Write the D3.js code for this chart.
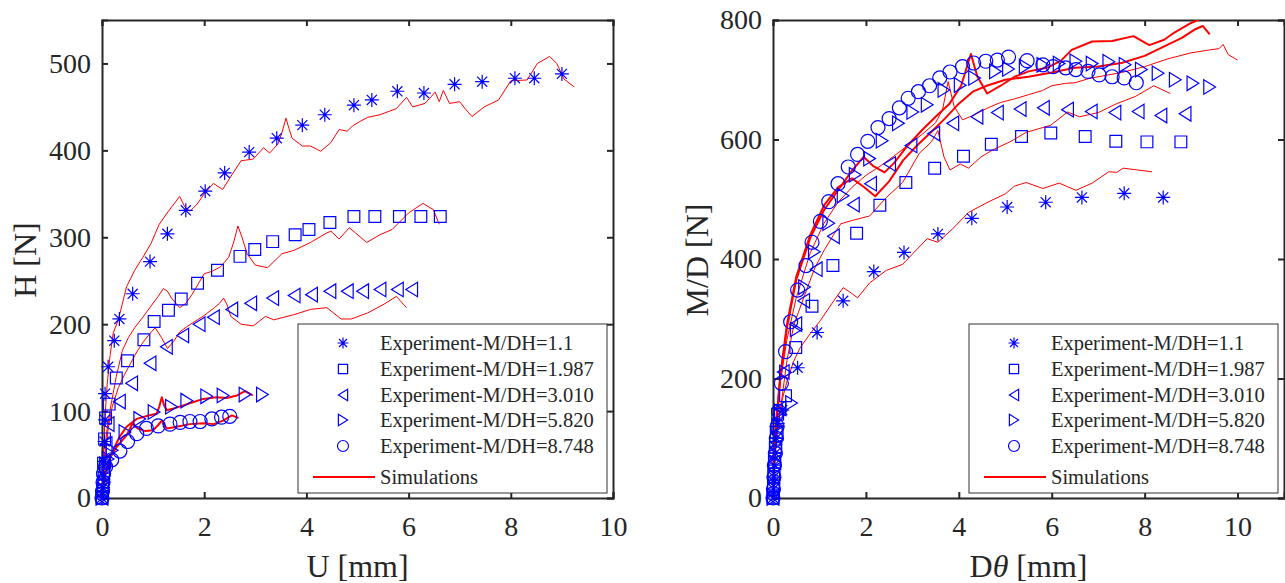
<!DOCTYPE html>
<html><head><meta charset="utf-8">
<script src="https://cdn.jsdelivr.net/npm/d3@7"></script>
<style>
body{margin:0;background:#fff}
svg{display:block}
text{font-family:"Liberation Serif","Times New Roman",serif;fill:#262626}
</style>
</head><body>
<svg id="chart" width="1285" height="583"></svg>
<script>
// ---------- labels & ticks ----------
const legendLabels = ["Experiment-M/DH=1.1","Experiment-M/DH=1.987","Experiment-M/DH=3.010","Experiment-M/DH=5.820","Experiment-M/DH=8.748"];
const simLabel = "Simulations";
const markerTypes = ["asterisk","square","triLeft","triRight","circle"];
const leftXTicks = [0,2,4,6,8,10];
const leftYTicks = [0,100,200,300,400,500];
const rightXTicks = [0,2,4,6,8,10];
const rightYTicks = [0,200,400,600,800];

// ---------- left panel: H vs U ----------
const leftExp1 = [[0,0],[0.02,12],[0.03,25],[0.04,42],[0.05,65],[0.06,90],[0.06,120],[0.12,151],[0.24,181],[0.34,206],[0.6,235],[0.94,272],[1.28,304],[1.64,331],[2.02,353],[2.4,374],[2.88,398],[3.42,414],[3.92,429],[4.36,441],[4.93,452],[5.28,458],[5.78,468],[6.3,466],[6.9,476],[7.44,479],[8.08,483],[8.46,483],[9.0,488]];
const leftExp2 = [[0,0],[0.02,15],[0.03,40],[0.05,68],[0.07,92],[0.14,108],[0.28,138],[0.5,158],[0.82,182],[1.02,203],[1.3,216],[1.55,229],[1.87,247],[2.26,262],[2.7,278],[2.99,286],[3.34,295],[3.78,303],[4.05,309],[4.46,317],[4.93,324],[5.34,324],[5.82,324],[6.24,324],[6.62,324]];
const leftExp3 = [[0,0],[0.01,10],[0.03,25],[0.05,42],[0.08,62],[0.12,85],[0.34,111],[0.58,132],[0.94,155],[1.26,174],[1.58,187],[1.9,200],[2.18,208],[2.54,217],[2.91,224],[3.34,230],[3.76,233],[4.1,234],[4.46,238],[4.8,238],[5.1,238],[5.44,240],[5.78,240],[6.06,240]];
const leftExp4 = [[0,0],[0.02,10],[0.04,22],[0.07,38],[0.12,45],[0.2,55],[0.45,76],[0.74,91],[1.02,99],[1.36,105],[1.66,112],[2.05,117],[2.37,118],[2.8,119],[3.14,119]];
const leftExp5 = [[0,0],[0.01,8],[0.02,18],[0.03,28],[0.07,36],[0.19,44],[0.35,54],[0.5,65],[0.68,74],[0.87,80],[1.1,83],[1.33,85],[1.53,87],[1.72,88],[1.92,88],[2.15,91],[2.34,93],[2.5,94]];
const leftSim1 = [[0,0],[0.03,50],[0.06,95],[0.1,130],[0.16,165],[0.22,190],[0.32,205],[0.48,243],[0.64,262],[0.8,277],[0.96,293],[1.12,315],[1.3,330],[1.52,347],[1.62,335],[1.72,330],[1.86,338],[2.0,350],[2.18,362],[2.36,355],[2.5,368],[2.72,388],[2.96,390],[3.16,403],[3.28,397],[3.44,407],[3.52,420],[3.6,437],[3.66,425],[3.72,414],[3.92,405],[4.08,405],[4.28,399],[4.48,409],[4.64,424],[4.8,422],[4.9,428],[5.04,433],[5.2,438],[5.44,441],[5.76,448],[5.96,461],[6.08,450],[6.32,454],[6.52,467],[6.6,456],[6.68,469],[6.8,454],[7.0,456],[7.12,447],[7.24,439],[7.48,450],[7.76,458],[8.0,480],[8.32,481],[8.52,500],[8.76,508],[8.9,500],[9.04,482],[9.24,473]];
const leftSim2 = [[0,0],[0.04,40],[0.09,75],[0.16,102],[0.28,140],[0.4,170],[0.52,185],[0.64,196],[0.8,208],[0.96,221],[1.1,232],[1.2,241],[1.28,238],[1.36,230],[1.52,219],[1.64,224],[1.76,234],[1.88,246],[2.0,258],[2.16,261],[2.32,266],[2.48,277],[2.58,295],[2.66,313],[2.74,300],[2.84,281],[3.0,268],[3.24,265],[3.52,281],[3.76,285],[4.08,294],[4.4,305],[4.48,307],[4.64,298],[4.84,311],[4.96,305],[5.18,294],[5.44,303],[5.68,309],[6.0,328],[6.28,339],[6.48,332],[6.6,315]];
const leftSim3 = [[0,0],[0.04,30],[0.08,55],[0.12,80],[0.2,105],[0.32,127],[0.44,142],[0.56,155],[0.68,168],[0.8,179],[0.92,188],[1.04,196],[1.16,185],[1.28,172],[1.4,180],[1.52,191],[1.68,198],[1.84,204],[2.0,210],[2.2,219],[2.3,224],[2.38,230],[2.45,222],[2.52,209],[2.72,200],[2.96,198],[3.2,209],[3.36,205],[3.56,208],[3.76,211],[4.08,217],[4.4,219],[4.68,206],[4.88,206],[5.2,213],[5.52,223],[5.76,232],[5.85,226],[5.96,219]];
const leftSim4 = [[0,0],[0.02,12],[0.06,29],[0.14,42],[0.22,55],[0.34,70],[0.48,82],[0.68,91],[0.91,95],[1.07,97],[1.12,105],[1.17,116],[1.22,106],[1.27,101],[1.46,104],[1.72,109],[1.98,114],[2.24,116],[2.44,115],[2.64,118],[2.8,123],[2.95,118]];
const leftSim5 = [[0,0],[0.03,13],[0.08,32],[0.16,47],[0.29,59],[0.48,72],[0.6,86],[0.7,80],[0.85,77],[1.0,78],[1.1,84],[1.17,89],[1.22,84],[1.27,80],[1.46,82],[1.72,85],[1.98,86],[2.18,85],[2.37,89],[2.54,95],[2.67,92]];

// ---------- right panel: M/D vs D theta ----------
const rightExp1 = [[0,0],[0.01,15],[0.02,35],[0.03,55],[0.05,75],[0.07,100],[0.1,125],[0.2,147],[0.53,218],[0.95,277],[1.51,330],[2.17,379],[2.82,411],[3.55,442],[4.28,468],[5.04,487],[5.87,495],[6.65,503],[7.56,510],[8.4,503]];
const rightExp2 = [[0,0],[0.01,20],[0.02,40],[0.03,60],[0.05,85],[0.07,110],[0.1,140],[0.27,171],[0.49,252],[0.84,321],[1.29,389],[1.8,443],[2.3,490],[2.86,528],[3.48,552],[4.1,572],[4.7,592],[5.35,605],[5.98,611],[6.72,605],[7.38,597],[8.05,596],[8.78,596]];
const rightExp3 = [[0,0],[0.01,15],[0.02,35],[0.04,60],[0.06,85],[0.09,110],[0.15,150],[0.22,211],[0.49,291],[0.66,330],[0.93,383],[1.3,438],[1.73,491],[2.1,526],[2.51,559],[2.97,590],[3.46,610],[3.87,627],[4.39,638],[4.83,645],[5.32,651],[5.82,653],[6.34,650],[6.85,647],[7.36,645],[7.86,647],[8.35,640],[8.87,643]];
const rightExp4 = [[0,0],[0.01,15],[0.02,35],[0.04,60],[0.06,90],[0.1,120],[0.16,145],[0.4,159],[0.27,210],[0.5,282],[0.68,353],[0.89,412],[1.2,460],[1.51,506],[1.77,541],[2.08,568],[2.35,598],[2.7,627],[3.01,646],[3.32,658],[3.68,683],[4.03,691],[4.34,703],[4.79,714],[5.07,718],[5.43,722],[5.81,725],[6.16,727],[6.52,731],[6.87,727],[7.23,730],[7.58,725],[7.93,717],[8.29,711],[8.66,700],[9.04,694],[9.4,688]];
const rightExp5 = [[0,0],[0.01,15],[0.02,35],[0.03,55],[0.05,75],[0.07,100],[0.09,120],[0.12,145],[0.18,192],[0.27,245],[0.38,295],[0.53,348],[0.71,389],[0.84,428],[1.02,463],[1.2,496],[1.4,526],[1.62,554],[1.82,575],[2.04,597],[2.26,620],[2.5,635],[2.72,653],[2.91,669],[3.13,680],[3.37,690],[3.59,703],[3.81,713],[4.08,722],[4.32,728],[4.58,731],[4.83,733],[5.07,738],[5.47,732],[5.81,725],[6.03,722],[6.3,720],[6.52,717],[6.78,714],[7.02,708],[7.3,705],[7.56,703],[7.82,695]];
const rightSim1 = [[0,0],[0.04,60],[0.08,100],[0.13,130],[0.2,165],[0.31,198],[0.44,228],[0.58,251],[0.8,275],[1.02,297],[1.29,328],[1.51,352],[1.65,345],[1.82,335],[2.08,360],[2.44,381],[2.79,391],[3.01,409],[3.32,434],[3.55,428],[3.86,450],[4.21,478],[4.65,496],[5.0,509],[5.2,522],[5.45,528],[5.81,518],[6.16,527],[6.52,515],[6.87,527],[7.23,546],[7.4,545],[7.54,552],[7.85,549],[8.16,546]];
const rightSim2 = [[0,0],[0.04,70],[0.1,120],[0.18,160],[0.3,230],[0.45,290],[0.66,335],[0.9,385],[1.11,416],[1.3,440],[1.46,459],[1.73,465],[2.08,472],[2.44,503],[2.79,528],[3.15,577],[3.41,596],[3.55,615],[3.68,571],[3.81,549],[4.03,559],[4.21,552],[4.48,571],[4.74,583],[5.1,596],[5.45,612],[5.72,618],[5.98,624],[6.34,646],[6.6,638],[7.0,645],[7.4,660],[7.8,672],[8.2,690],[8.55,677]];
const rightSim3 = [[0,0],[0.05,100],[0.15,190],[0.3,265],[0.5,335],[0.8,410],[1.1,460],[1.4,495],[1.7,520],[2.0,540],[2.3,555],[2.6,572],[2.9,590],[3.2,608],[3.5,628],[3.65,650],[3.77,697],[3.9,655],[4.08,633],[4.3,640],[4.6,652],[4.9,662],[5.2,668],[5.5,675],[5.8,682],[6.0,690],[6.3,694],[6.5,695],[6.8,702],[7.0,705],[7.5,712],[8.0,722],[8.5,735],[9.0,745],[9.4,750],[9.6,752],[9.69,759],[9.8,742],[10,733]];
const rightSim4 = [[0,0],[0.05,100],[0.15,195],[0.3,285],[0.5,365],[0.8,435],[1.1,482],[1.4,515],[1.7,548],[1.95,571],[2.15,556],[2.4,545],[2.6,560],[2.9,590],[3.2,615],[3.5,638],[3.8,660],[4.05,690],[4.26,743],[4.4,705],[4.61,677],[4.9,690],[5.2,705],[5.5,714],[5.9,720],[6.2,732],[6.43,750],[6.87,764],[7.3,765],[7.76,773],[8.1,758],[8.42,767],[8.64,779],[9.0,795],[9.18,801]];
const rightSim5 = [[0,0],[0.05,110],[0.15,200],[0.3,290],[0.5,370],[0.8,440],[1.1,490],[1.4,520],[1.7,535],[1.95,521],[2.2,505],[2.5,530],[2.8,565],[3.1,590],[3.4,612],[3.7,635],[4.0,660],[4.3,680],[4.6,690],[5.0,700],[5.5,705],[6.0,712],[6.5,720],[7.0,722],[7.5,728],[8.0,740],[8.4,755],[8.8,770],[9.1,785],[9.25,790],[9.4,776]];

// ---------- layout ----------
const BLUE = "#0000ff", RED = "#ff0000", AX = "#262626";
const FONT = '"Liberation Serif","Times New Roman",serif';
const panels = [
  {id:"L", left:102, right:613, top:20, bottom:498, xDom:[0,10], yDom:[0,550], xTicks:leftXTicks, yTicks:leftYTicks,
   exp:[leftExp1,leftExp2,leftExp3,leftExp4,leftExp5], sim:[leftSim1,leftSim2,leftSim3,leftSim4,leftSim5],
   xTitle:[{t:"U [mm]"}], yTitle:"H [N]", yTitleX:25, legend:{x0:298,x1:607,y0:324,y1:493}},
  {id:"R", left:773, right:1284, top:20, bottom:498, xDom:[0,11], yDom:[0,800], xTicks:rightXTicks, yTicks:rightYTicks,
   exp:[rightExp1,rightExp2,rightExp3,rightExp4,rightExp5], sim:[rightSim1,rightSim2,rightSim3,rightSim4,rightSim5],
   xTitle:[{t:"D"},{t:"θ",i:true},{t:" [mm]"}], yTitle:"M/D [N]", yTitleX:697, legend:{x0:969,x1:1278,y0:324,y1:493}}
];
const simWidths = [1,1,1,2,2];

function markerPath(type, s){
  const h = s/2;
  switch(type){
    case "square": { const a=s*0.42; return `M${-a},${-a}H${a}V${a}H${-a}Z`; }
    case "circle": { const r=s*0.5; return `M${r},0A${r},${r} 0 1,1 ${-r},0A${r},${r} 0 1,1 ${r},0Z`; }
    case "triLeft": { const w=s*0.42, hh=s*0.52; return `M${w},${-hh}L${-w},0L${w},${hh}Z`; }
    case "triRight": { const w=s*0.42, hh=s*0.52; return `M${-w},${-hh}L${w},0L${-w},${hh}Z`; }
    case "asterisk": { const a=h, d=h*0.72; return `M${-a},0H${a}M0,${-a}V${a}M${-d},${-d}L${d},${d}M${-d},${d}L${d},${-d}`; }
  }
}

const svg = d3.select("#chart");

panels.forEach(p => {
  const x = d3.scaleLinear().domain(p.xDom).range([p.left, p.right]);
  const y = d3.scaleLinear().domain(p.yDom).range([p.bottom, p.top]);
  const g = svg.append("g");
  const clipId = "clip" + p.id;
  svg.append("clipPath").attr("id", clipId).append("rect")
    .attr("x", p.left).attr("y", p.top).attr("width", p.right - p.left).attr("height", p.bottom - p.top);

  const tl = 6;
  g.append("g").attr("transform", `translate(0,${p.bottom})`)
    .call(d3.axisBottom(x).tickValues(p.xTicks).tickSize(-tl).tickPadding(18).tickFormat(d3.format("d")));
  g.append("g").attr("transform", `translate(0,${p.top})`)
    .call(d3.axisTop(x).tickValues(p.xTicks).tickSize(-tl).tickFormat(""));
  g.append("g").attr("transform", `translate(${p.left},0)`)
    .call(d3.axisLeft(y).tickValues(p.yTicks).tickSize(-tl).tickPadding(11).tickFormat(d3.format("d")));
  g.append("g").attr("transform", `translate(${p.right},0)`)
    .call(d3.axisRight(y).tickValues(p.yTicks).tickSize(-tl).tickFormat(""));
  g.selectAll("g").attr("font-family", null).attr("font-size", null);
  g.selectAll(".domain").attr("stroke", AX).attr("stroke-width", 2);
  g.selectAll(".tick line").attr("stroke", AX).attr("stroke-width", 2);
  g.selectAll(".tick text").style("font-family", FONT).style("font-size", "28px").attr("fill", AX);

  const line = d3.line().x(d => x(d[0])).y(d => y(d[1]));
  const simG = svg.append("g").attr("clip-path", `url(#${clipId})`);
  p.sim.forEach((s, i) => {
    simG.append("path").datum(s).attr("d", line).attr("fill", "none")
      .attr("stroke", RED).attr("stroke-width", simWidths[i]).attr("stroke-linejoin", "round");
  });

  p.exp.forEach((s, i) => {
    svg.append("g").selectAll("path").data(s).join("path")
      .attr("transform", d => `translate(${x(d[0])},${y(d[1])})`)
      .attr("d", markerPath(markerTypes[i], 14))
      .attr("fill", "none").attr("stroke", BLUE).attr("stroke-width", 1.2);
  });

  const xt = svg.append("text").attr("x", (p.left + p.right) / 2).attr("y", 577)
    .attr("text-anchor", "middle").style("font-size", "32px");
  p.xTitle.forEach(part => xt.append("tspan").text(part.t).attr("font-style", part.i ? "italic" : null));
  svg.append("text").attr("transform", `translate(${p.yTitleX + 11},${(p.top + p.bottom) / 2 + 1}) rotate(-90)`)
    .attr("text-anchor", "middle").style("font-size", "32px").text(p.yTitle);

  const L = p.legend;
  const lg = svg.append("g");
  lg.append("rect").attr("x", L.x0).attr("y", L.y0).attr("width", L.x1 - L.x0).attr("height", L.y1 - L.y0)
    .attr("fill", "#fff").attr("stroke", "#333").attr("stroke-width", 1);
  const rowY = [343, 369, 395, 420, 446];
  legendLabels.forEach((lab, i) => {
    lg.append("path").attr("transform", `translate(${L.x0 + 45},${rowY[i]})`)
      .attr("d", markerPath(markerTypes[i], 11)).attr("fill", "none").attr("stroke", BLUE).attr("stroke-width", 1.2);
    lg.append("text").attr("x", L.x0 + 82).attr("y", rowY[i]).attr("dy", "0.35em")
      .style("font-size", "20.5px").text(lab);
  });
  lg.append("line").attr("x1", L.x0 + 15).attr("x2", L.x0 + 77).attr("y1", 477).attr("y2", 477)
    .attr("stroke", RED).attr("stroke-width", 2);
  lg.append("text").attr("x", L.x0 + 82).attr("y", 477).attr("dy", "0.35em").style("font-size", "20.5px").text(simLabel);
});
</script>
</body></html>
